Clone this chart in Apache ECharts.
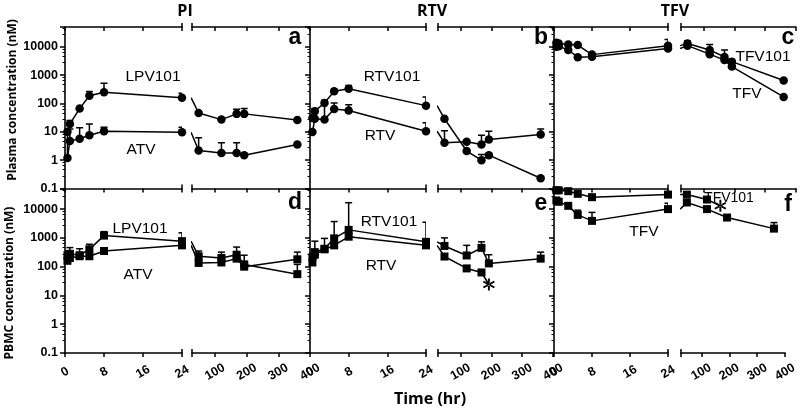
<!DOCTYPE html>
<html>
<head>
<meta charset="utf-8">
<script src="https://cdn.jsdelivr.net/npm/echarts@6/dist/echarts.min.js"></script>
<style>
  html, body { margin: 0; padding: 0; background: #fff; }
  #chart { width: 800px; height: 411px; }
</style>
</head>
<body>
<div id="chart"></div>
<script>
// sampling times (hr)
const timesEarly = [0.5, 1, 3, 5, 8, 24];
const timesLate = [48, 120, 168, 192, 360];
const lateTicks = [100, 200, 300, 400];
const earlyTicks = [0, 8, 16, 24];

// a: plasma, PI
const lpvPlasmaEarly = [10, 19, 66, 187, 250, 160];
const lpvPlasmaEarlyHi = [null, 25, null, 267, 520, 230];
const lpvPlasmaLate = [46, 27, 43, 43, 26];
const lpvPlasmaLateHi = [null, null, 62, 66, null];
const atvPlasmaEarly = [1.2, 4.7, 5.7, 7.6, 10.5, 9.7];
const atvPlasmaEarlyHi = [9, 12.6, 14, 19, 14.5, 14.5];
const atvPlasmaLate = [2.2, 1.8, 1.8, 1.5, 3.6];
const atvPlasmaLateHi = [6.2, 4.1, 4.1, null, null];

// b: plasma, RTV
const rtv101PlasmaEarly = [31, 53, 105, 270, 330, 84];
const rtv101PlasmaEarlyHi = [null, 66, null, null, 430, 170];
const rtv101PlasmaLate = [29, 2.1, 1.0, 1.5, 0.23];
const rtv101PlasmaLateHi = [null, null, 1.6, null, null];
const rtvPlasmaEarly = [9.8, 29, 27, 64, 57, 10.5];
const rtvPlasmaEarlyHi = [null, null, 130, 105, 91, 21];
const rtvPlasmaLate = [4.1, 4.5, 3.6, 5.4, 8.1];
const rtvPlasmaLateHi = [11, null, 7.6, 10.5, 12.7];

// c: plasma, TFV
const tfv101PlasmaEarly = [14000, 13000, 12000, 11500, 5300, 11000];
const tfv101PlasmaEarlyHi = [null, null, null, null, null, 18000];
const tfv101PlasmaLate = [13000, 7700, 4400, 3000, 650];
const tfv101PlasmaLateHi = [16000, 12000, 7700, null, null];
const tfvPlasmaEarly = [10000, 10500, 7700, 4300, 4500, 8700];
const tfvPlasmaEarlyHi = [null, null, null, null, null, null];
const tfvPlasmaLate = [11000, 5500, 3400, 2000, 170];
const tfvPlasmaLateHi = [null, null, null, null, null];

// d: PBMC, PI
const lpvPbmcEarly = [250, 280, 250, 400, 1200, 770];
const lpvPbmcEarlyHi = [null, 460, 420, 600, 1650, 1500];
const lpvPbmcLate = [230, 200, 260, 120, 55];
const lpvPbmcLateHi = [350, 320, 480, 250, 120];
const atvPbmcEarly = [160, 200, 230, 230, 350, 550];
const atvPbmcEarlyHi = [null, null, null, null, null, null];
const atvPbmcLate = [135, 140, 190, 100, 180];
const atvPbmcLateHi = [null, null, null, null, 320];

// e: PBMC, RTV (192 hr RTV value is the * point)
const rtv101PbmcEarly = [215, 320, 420, 960, 1900, 730];
const rtv101PbmcEarlyHi = [null, 770, 960, 3700, 16700, 3500];
const rtv101PbmcLate = [525, 245, 450, 130, 190];
const rtv101PbmcLateHi = [1000, 550, 730, 260, 320];
const rtvPbmcEarly = [140, 260, 400, 550, 1100, 550];
const rtvPbmcEarlyHi = [null, null, null, null, null, null];
const rtvPbmcLate = [225, 87, 63, 24, null];
const rtvPbmcLateHi = [null, null, null, null, null];

// f: PBMC, TFV (168 hr TFV101 value is the * point)
const tfv101PbmcEarly = [45000, 45000, 42000, 34000, 26000, 32000];
const tfv101PbmcEarlyHi = [null, null, null, null, null, 59000];
const tfv101PbmcLate = [32000, 21500, 13000, null, null];
const tfv101PbmcLateHi = [null, null, null, null, null];
const tfvPbmcEarly = [20000, 18000, 13000, 6300, 3900, 10000];
const tfvPbmcEarlyHi = [null, null, null, 9200, 7700, 16000];
const tfvPbmcLate = [17000, 10000, null, 5100, 2100];
const tfvPbmcLateHi = [null, null, null, null, 3400];

const ASTERISK = 'path://M-0.15,-1L0.15,-1L0.15,1L-0.15,1Z M0.791,0.63L0.941,0.37L-0.791,-0.63L-0.941,-0.37Z M-0.941,0.37L-0.791,0.63L0.941,-0.37L0.791,-0.63Z';

const panels = [
  { row: 0, col: 0, sym: 'circle', drugs: [
    { e: lpvPlasmaEarly, eh: lpvPlasmaEarlyHi, l: lpvPlasmaLate, lh: lpvPlasmaLateHi },
    { e: atvPlasmaEarly, eh: atvPlasmaEarlyHi, l: atvPlasmaLate, lh: atvPlasmaLateHi }] },
  { row: 0, col: 1, sym: 'circle', drugs: [
    { e: rtv101PlasmaEarly, eh: rtv101PlasmaEarlyHi, l: rtv101PlasmaLate, lh: rtv101PlasmaLateHi },
    { e: rtvPlasmaEarly, eh: rtvPlasmaEarlyHi, l: rtvPlasmaLate, lh: rtvPlasmaLateHi }] },
  { row: 0, col: 2, sym: 'circle', drugs: [
    { e: tfv101PlasmaEarly, eh: tfv101PlasmaEarlyHi, l: tfv101PlasmaLate, lh: tfv101PlasmaLateHi },
    { e: tfvPlasmaEarly, eh: tfvPlasmaEarlyHi, l: tfvPlasmaLate, lh: tfvPlasmaLateHi }] },
  { row: 1, col: 0, sym: 'rect', drugs: [
    { e: lpvPbmcEarly, eh: lpvPbmcEarlyHi, l: lpvPbmcLate, lh: lpvPbmcLateHi },
    { e: atvPbmcEarly, eh: atvPbmcEarlyHi, l: atvPbmcLate, lh: atvPbmcLateHi }] },
  { row: 1, col: 1, sym: 'rect', drugs: [
    { e: rtv101PbmcEarly, eh: rtv101PbmcEarlyHi, l: rtv101PbmcLate, lh: rtv101PbmcLateHi },
    { e: rtvPbmcEarly, eh: rtvPbmcEarlyHi, l: rtvPbmcLate, lh: rtvPbmcLateHi, star: 3 }] },
  { row: 1, col: 2, sym: 'rect', drugs: [
    { e: tfv101PbmcEarly, eh: tfv101PbmcEarlyHi, l: tfv101PbmcLate, lh: tfv101PbmcLateHi, star: 2 },
    { e: tfvPbmcEarly, eh: tfvPbmcEarlyHi, l: tfvPbmcLate, lh: tfvPbmcLateHi }] }
];

// layout
const colX0 = [65, 310, 554];
const colLeftW = [117, 116, 114];
const colRightL = [192, 438, 681];
const colRightR = [310, 553, 796];
const rowTop = [27, 189];
const rowH = [161.5, 164];
const LATE_MIN = 27;

const black = '#000';
const labelFont = 'Liberation Sans';

function xAxisDef(g, pos, min, max, ticks, inside, labels, line) {
  return {
    type: 'value', gridIndex: g, position: pos, min: min, max: max,
    axisLine: { show: line, onZero: false, lineStyle: { color: black, width: 1.6 } },
    axisTick: { show: true, inside: inside, length: 4, customValues: ticks, lineStyle: { color: black, width: 1.5 } },
    axisLabel: labels ? {
      show: true, customValues: labels, rotate: 30, margin: 19,
      align: 'center', verticalAlign: 'middle',
      fontFamily: labelFont, fontWeight: 'bold', fontSize: 12.5, color: black
    } : { show: false },
    splitLine: { show: false }
  };
}

function errorBars(points, xi, yi) {
  return {
    type: 'custom', xAxisIndex: xi, yAxisIndex: yi, clip: true, z: 2,
    encode: { x: 0, y: 1 },
    data: points,
    renderItem: function (params, api) {
      const p0 = api.coord([api.value(0), api.value(1)]);
      const p1 = api.coord([api.value(0), api.value(2)]);
      const st = { stroke: black, lineWidth: 1.5 };
      return { type: 'group', children: [
        { type: 'line', shape: { x1: p0[0], y1: p0[1], x2: p1[0], y2: p1[1] }, style: st },
        { type: 'line', shape: { x1: p1[0] - 3.5, y1: p1[1], x2: p1[0] + 3.5, y2: p1[1] }, style: st }
      ] };
    }
  };
}

const grids = [], xAxes = [], yAxes = [], series = [];

panels.forEach(function (p) {
  [0, 1].forEach(function (s) {
    const g = grids.length;
    const left = s === 0 ? colX0[p.col] : colRightL[p.col];
    const width = s === 0 ? colLeftW[p.col] : colRightR[p.col] - colRightL[p.col];
    grids.push({ left: left, top: rowTop[p.row], width: width, height: rowH[p.row] });

    const min = s === 0 ? 0 : LATE_MIN, max = s === 0 ? 24 : 400;
    const ticks = s === 0 ? earlyTicks : [LATE_MIN].concat(lateTicks);
    const cap = s === 0 ? [24] : [LATE_MIN];
    const labels = p.row === 1 ? (s === 0 ? earlyTicks : lateTicks) : null;

    const mainX = xAxes.length;
    xAxes.push(xAxisDef(g, 'bottom', min, max, ticks, false, labels, true));
    xAxes.push(xAxisDef(g, 'bottom', min, max, cap, true, null, false));
    if (p.row === 0) {
      xAxes.push(xAxisDef(g, 'top', min, max, ticks, true, null, true));
      xAxes.push(xAxisDef(g, 'top', min, max, cap, false, null, false));
    }

    yAxes.push({
      type: 'log', logBase: 10, gridIndex: g, min: 0.1, max: 50000, splitNumber: 6,
      show: s === 0,
      axisLine: { show: true, onZero: false, lineStyle: { color: black, width: 1.6 } },
      axisTick: { show: true, length: 5, lineStyle: { color: black, width: 1.5 } },
      minorTick: { show: true, splitNumber: 5, length: 2.5, lineStyle: { color: black, width: 1 } },
      axisLabel: {
        show: p.col === 0, showMaxLabel: false, margin: 7,
        fontFamily: labelFont, fontWeight: 'bold', fontSize: 12.5, color: black,
        formatter: function (v) { return v < 1 ? v.toFixed(1) : String(Math.round(v)); }
      },
      splitLine: { show: false }
    });

    p.drugs.forEach(function (d) {
      let pts = [], errs = [];
      if (s === 0) {
        timesEarly.forEach(function (t, i) {
          pts.push([t, d.e[i]]);
          if (d.eh[i] != null) errs.push([t, d.e[i], d.eh[i]]);
        });
      } else {
        pts.push({ value: [24, d.e[d.e.length - 1]], symbol: 'none' });
        timesLate.forEach(function (t, i) {
          if (d.l[i] == null) return;
          if (d.star === i) pts.push({ value: [t, d.l[i]], symbol: ASTERISK, symbolSize: 12 });
          else pts.push([t, d.l[i]]);
          if (d.lh[i] != null) errs.push([t, d.l[i], d.lh[i]]);
        });
      }
      series.push({
        type: 'line', xAxisIndex: mainX, yAxisIndex: g, data: pts,
        symbol: p.sym, symbolSize: p.sym === 'circle' ? 8.5 : 8, showSymbol: true,
        itemStyle: { color: black }, lineStyle: { color: black, width: 1.5 },
        clip: true, z: 3, animation: false
      });
      if (errs.length) series.push(errorBars(errs, mainX, g));
    });
  });
});

function txt(x, y, text, font, extra) {
  return Object.assign({
    type: 'text', x: x, y: y,
    style: { text: text, font: font, fill: black, align: 'center', verticalAlign: 'middle',
             textAlign: 'center', textVerticalAlign: 'middle' }
  }, extra || {});
}

const titleFont = 'bold 16px "Open Sans"';
const letterFont = 'bold 23px "Liberation Sans"';
const nameFont = '15.5px "Liberation Sans"';

const graphics = [
  txt(185, 11, 'PI', titleFont), txt(432, 11, 'RTV', titleFont), txt(675, 11, 'TFV', titleFont),
  txt(295, 38, 'a', letterFont), txt(541, 38, 'b', letterFont), txt(788, 38, 'c', letterFont),
  txt(295, 203, 'd', letterFont), txt(541, 204, 'e', letterFont), txt(788, 205, 'f', letterFont),
  txt(153, 77, 'LPV101', nameFont), txt(141, 150, 'ATV', nameFont),
  txt(392, 77, 'RTV101', nameFont), txt(380, 136, 'RTV', nameFont),
  txt(763, 57, 'TFV101', nameFont), txt(747, 94, 'TFV', nameFont),
  txt(140, 229, 'LPV101', nameFont), txt(138, 275, 'ATV', nameFont),
  txt(389, 222, 'RTV101', nameFont), txt(381, 266, 'RTV', nameFont),
  txt(729, 198, 'TFV101', '14px "Liberation Sans"'), txt(644, 232, 'TFV', nameFont),
  txt(430, 399, 'Time (hr)', 'bold 16px "Open Sans"'),
  txt(13, 100, 'Plasma concentration (nM)', 'bold 12px "Open Sans"', { rotation: Math.PI / 2 }),
  txt(10, 283, 'PBMC concentration (nM)', 'bold 12px "Open Sans"', { rotation: Math.PI / 2 })
];

const chart = echarts.init(document.getElementById('chart'), null, { renderer: 'canvas' });
chart.setOption({
  backgroundColor: '#fff',
  animation: false,
  grid: grids,
  xAxis: xAxes,
  yAxis: yAxes,
  series: series,
  graphic: graphics
});
</script>
</body>
</html>
